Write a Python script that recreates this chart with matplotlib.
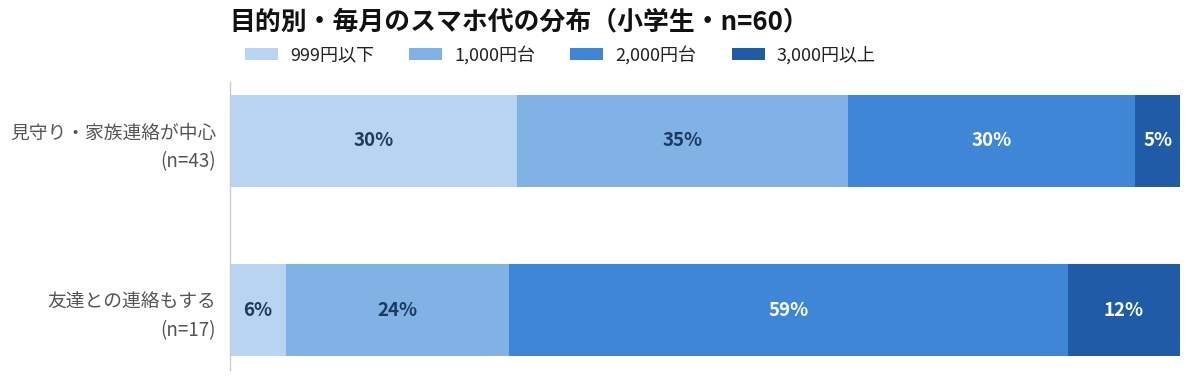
import matplotlib
matplotlib.use("Agg")
import matplotlib.pyplot as plt
import numpy as np

plt.rcParams['font.family'] = ['Noto Sans CJK JP', 'DejaVu Sans']

title = "目的別・毎月のスマホ代の分布（小学生・n=60）"
categories = ["見守り・家族連絡が中心\n(n=43)", "友達との連絡もする\n(n=17)"]
series_names = ["999円以下", "1,000円台", "2,000円台", "3,000円以上"]
# percentages per category (rows) for each series (columns)
values = np.array([
    [30.2, 34.9, 30.2, 4.7],
    [5.9, 23.5, 58.8, 11.8],
])
labels = [
    ["30%", "35%", "30%", "5%"],
    ["6%", "24%", "59%", "12%"],
]
colors = ["#b9d4f0", "#80b2e6", "#3f86d6", "#1f5ba6"]
text_colors = ["#1d3a5e", "#1d3a5e", "#ffffff", "#ffffff"]

fig = plt.figure(figsize=(11.89, 3.80), dpi=100)
W, H = 1189, 380
ax = fig.add_axes([230 / W, 10 / H, 950 / W, 288 / H])

y = np.arange(len(categories))
left = np.zeros(len(categories))
handles = []
for j, name in enumerate(series_names):
    bars = ax.barh(y, values[:, j], left=left, height=0.545, color=colors[j],
                   label=name, edgecolor="none")
    handles.append(bars)
    for i in range(len(categories)):
        ax.text(left[i] + values[i, j] / 2, y[i], labels[i][j], ha="center",
                va="center", fontsize=13.5, fontweight="bold", color=text_colors[j])
    left += values[:, j]

ax.set_xlim(0, 100)
ax.set_ylim(1.355, -0.349)
ax.set_yticks(y)
ax.set_yticklabels(categories, fontsize=13.5, color="#555555", linespacing=1.45)
ax.tick_params(axis="y", length=0, pad=10)
ax.set_xticks([])
for s in ["top", "right", "bottom"]:
    ax.spines[s].set_visible(False)
ax.spines["left"].set_color("#cccccc")
ax.spines["left"].set_linewidth(1)

fig.text(229 / W, 1 - 22 / H, title, fontsize=18.6, fontweight="bold",
         color="#111111", ha="left", va="center")

leg = fig.legend(handles=handles, labels=series_names, loc="center left",
                 bbox_to_anchor=(245 / W, 1 - 55 / H), ncol=4, frameon=False,
                 fontsize=13, handlelength=1.83, handleheight=0.6,
                 handletextpad=0.67, columnspacing=1.94, borderaxespad=0,
                 borderpad=0)
for t in leg.get_texts():
    t.set_color("#222222")

fig.savefig("out.png", dpi=100)
